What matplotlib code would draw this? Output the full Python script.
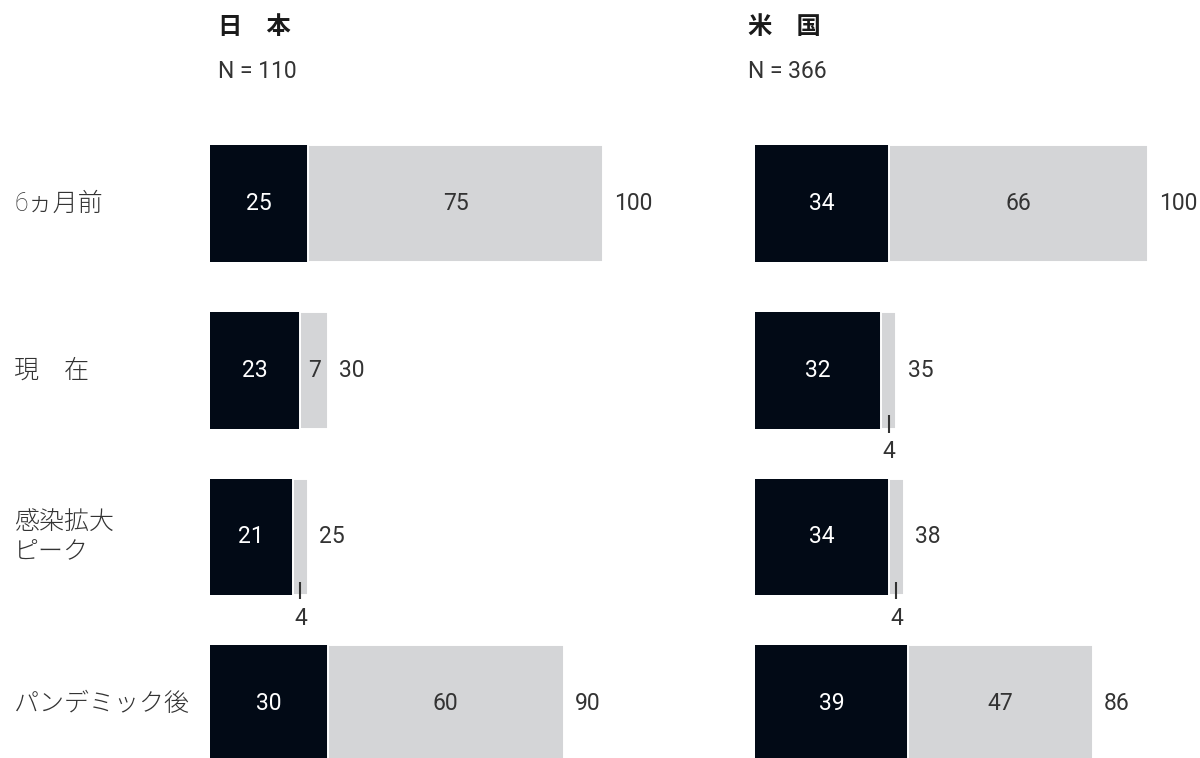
import matplotlib
matplotlib.use("Agg")
import matplotlib.pyplot as plt
from matplotlib.transforms import blended_transform_factory

plt.rcParams['font.family'] = ['Roboto', 'Noto Sans CJK JP', 'DejaVu Sans']

# survey data
rows = ['6ヵ月前', '現　在', '感染拡大\nピーク', 'パンデミック後']
panels = ['日　本', '米　国']
sample_sizes = ['N = 110', 'N = 366']
jp_dark = [25, 23, 21, 30]
jp_light = [75, 7, 4, 60]
jp_total = [100, 30, 25, 90]
us_dark = [34, 32, 34, 39]
us_light = [66, 4, 4, 47]
us_total = [100, 35, 38, 86]

DARK = '#020a16'
LIGHT = '#d4d5d7'
TEXT = '#333333'
BAR_H = 0.70
NUM_SIZE = 16.5

W, H = 1200, 758
fig = plt.figure(figsize=(W / 100, H / 100), dpi=100)

row_step = 166.7
top_px = 203.5 - row_step / 2
ax_h = (H - top_px) / H
ymax = -0.5 + (H - top_px) / row_step


def num(ax, x, y, s, color=TEXT, **kw):
    return ax.text(x, y, s, color=color, fontsize=NUM_SIZE, va='center', **kw)


def draw_panel(left_px, dark, light, total):
    ax = fig.add_axes([left_px / W, 0, 393 / W, ax_h])
    ax.set_xlim(0, 100)
    ax.set_ylim(ymax, -0.5)
    ax.axis('off')
    ys = range(len(dark))
    ax.barh(ys, dark, height=BAR_H, color=DARK, linewidth=0)
    ax.barh(ys, light, left=dark, height=BAR_H, color=LIGHT,
            edgecolor='white', linewidth=1.4)
    for y, d, l, t in zip(ys, dark, light, total):
        num(ax, d / 2, y, str(d), color='white', ha='center')
        cx = d + l / 2
        if l >= 5:
            num(ax, cx, y, str(l), ha='center')
        else:
            # thin segment: value goes under the bar with a small leader
            bottom = y + BAR_H / 2
            ax.plot([cx, cx], [bottom - 0.08, bottom + 0.025], color=TEXT,
                    linewidth=1.5, solid_capstyle='butt', clip_on=False)
            num(ax, cx, bottom + 0.14, str(l), ha='center', clip_on=False)
        ax.annotate(str(t), xy=(d + l, y), xytext=(8, 0),
                    textcoords='offset points', color=TEXT, fontsize=NUM_SIZE,
                    ha='left', va='center', annotation_clip=False)
    return ax


ax_jp = draw_panel(210, jp_dark, jp_light, jp_total)
ax_us = draw_panel(755, us_dark, us_light, us_total)

# row labels on the far left
trans = blended_transform_factory(fig.transFigure, ax_jp.transData)
for i, label in enumerate(rows):
    ax_jp.text(14 / W, i, label, transform=trans, color='#333333', fontsize=18,
               fontweight='light', ha='left', va='center', linespacing=1.35,
               clip_on=False)

# panel headers
for x_px, name, n in zip([218, 748], panels, sample_sizes):
    fig.text(x_px / W, 1 - 27 / H, name, color='#1a1a1a', fontsize=17.5,
             fontweight='bold', ha='left', va='center')
    fig.text(x_px / W, 1 - 71 / H, n, color=TEXT, fontsize=NUM_SIZE,
             ha='left', va='center')

fig.savefig('out.png', dpi=100, facecolor='white')
